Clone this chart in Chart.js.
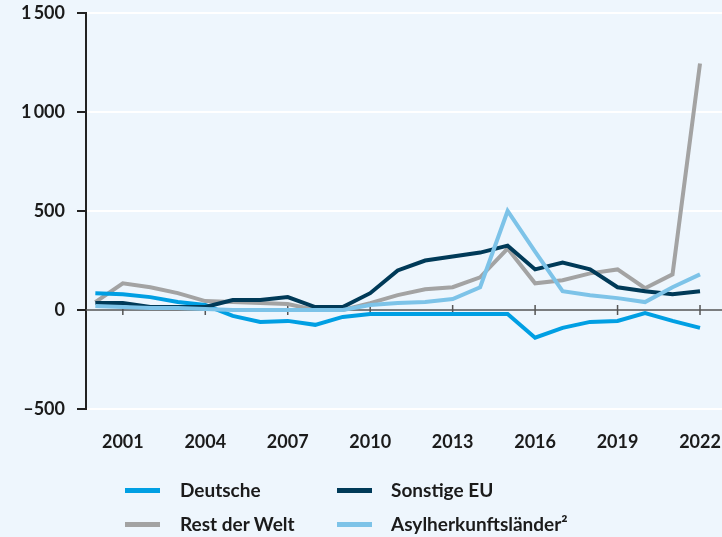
<!DOCTYPE html>
<html>
<head>
<meta charset="utf-8">
<script src="https://cdn.jsdelivr.net/npm/chart.js@4/dist/chart.umd.min.js"></script>
<style>
  html, body { margin:0; padding:0; background:#EEF6FD; }
  #wrap { position:relative; width:722px; height:537px; }
  #c { position:absolute; left:0; top:0; }
  .leg { position:absolute; font-family: Lato, "Noto Sans", sans-serif; font-weight:700; font-size:19px; color:#1b1b1b; white-space:nowrap; }
  .sw { position:absolute; height:5px; width:35px; }
</style>
</head>
<body>
<div id="wrap">
  <canvas id="c" width="722" height="537"></canvas>
  <div id="legend"></div>
</div>
<script>
const years = [2000,2001,2002,2003,2004,2005,2006,2007,2008,2009,2010,2011,2012,2013,2014,2015,2016,2017,2018,2019,2020,2021,2022];
const xTickYears = [2001,2004,2007,2010,2013,2016,2019,2022];
const yTicks = [-500,0,500,1000,1500];

const deutsche      = [85,80,65,40,25,-30,-60,-55,-75,-35,-20,-20,-20,-20,-20,-20,-140,-90,-60,-55,-15,-55,-90];
const sonstigeEU    = [35,35,15,15,15,50,50,65,15,15,85,200,250,270,290,325,205,240,205,115,95,80,95];
const restDerWelt   = [40,135,115,85,45,40,35,30,0,0,35,75,105,115,165,310,135,150,185,205,110,180,1245];
const asyl          = [20,15,10,10,5,0,0,0,0,0,25,35,40,55,115,500,295,95,75,60,40,115,180];

const seriesNames  = ["Deutsche","Sonstige EU","Rest der Welt","Asylherkunftsländer²"];
const seriesColors = ["#009FE3","#003A58","#A3A3A3","#7DC3E8"];
const seriesData   = [deutsche, sonstigeEU, restDerWelt, asyl];
const drawOrder    = [2,1,3,0];

function fmt(v){ return Math.abs(v) >= 1000 ? String(v).replace(/(\d)(\d{3})$/, '$1\u2009$2') : (v<0 ? '\u2013'+Math.abs(v) : String(v)); }

const zeroAxis = {
  id:'zeroAxis',
  beforeDatasetsDraw(chart){
    const {ctx, chartArea, scales} = chart;
    const y0 = scales.y.getPixelForValue(0);
    ctx.save();
    ctx.strokeStyle = '#555';
    ctx.lineWidth = 1.5;
    ctx.beginPath();
    ctx.moveTo(chartArea.left, y0);
    ctx.lineTo(chartArea.right, y0);
    xTickYears.forEach(yr => {
      const px = scales.x.getPixelForValue(yr);
      ctx.moveTo(px, y0-5);
      ctx.lineTo(px, y0+5);
    });
    ctx.stroke();
    ctx.restore();
  }
};

const datasets = seriesNames.map((n,i)=>({
  label:n,
  data: years.map((yr,j)=>({x:yr, y:seriesData[i][j]})),
  borderColor: seriesColors[i],
  backgroundColor: seriesColors[i],
  borderWidth: 4,
  pointRadius: 0,
  tension: 0,
  fill:false,
  order: drawOrder[i],
  borderJoinStyle:'miter'
}));

new Chart(document.getElementById('c'), {
  type:'line',
  data:{ datasets },
  plugins:[zeroAxis],
  options:{
    responsive:false,
    animation:false,
    devicePixelRatio:1,
    layout:{ padding:{ top:13, right:0, bottom:83, left:0 } },
    plugins:{ legend:{display:false}, tooltip:{enabled:false} },
    scales:{
      x:{
        type:'linear',
        min:1999.66, max:2022.8,
        afterBuildTicks(s){ s.ticks = xTickYears.map(v=>({value:v})); },
        afterFit(s){ s.height = 45; s.paddingLeft = 0; s.paddingRight = 0; },
        grid:{ display:false, drawTicks:false },
        border:{ display:false },
        ticks:{ padding:22, color:'#1b1b1b', font:{family:'Lato', weight:'bold', size:18}, callback:v=>String(v), maxRotation:0, autoSkip:false }
      },
      y:{
        min:-500, max:1500,
        afterBuildTicks(s){ s.ticks = yTicks.map(v=>({value:v})); },
        afterFit(s){ s.width = 86; s.paddingTop = 0; s.paddingBottom = 0; },
        grid:{ color: c => c.tick && c.tick.value===0 ? 'rgba(0,0,0,0)' : '#ffffff', lineWidth:2, tickColor:'#222', tickLength:9, drawTicks:true },
        border:{ display:true, color:'#222', width:2 },
        ticks:{ padding:12, color:'#1b1b1b', font:{family:'Lato', weight:'bold', size:18}, callback:v=>fmt(v) }
      }
    }
  }
});

const legPos = [
  {sx:125, tx:180, y:490},
  {sx:337, tx:391, y:490},
  {sx:125, tx:180, y:524},
  {sx:337, tx:391, y:524}
];
const legendOrder = [0,1,2,3];
const legEl = document.getElementById('legend');
legendOrder.forEach((si,k)=>{
  const p = legPos[k];
  const sw = document.createElement('div');
  sw.className='sw';
  sw.style.left = p.sx+'px'; sw.style.top = (p.y-2.5)+'px'; sw.style.background = seriesColors[si];
  legEl.appendChild(sw);
  const t = document.createElement('div');
  t.className='leg';
  t.textContent = seriesNames[si];
  t.style.left = p.tx+'px'; t.style.top = (p.y-12.5)+'px';
  legEl.appendChild(t);
});
</script>
</body>
</html>
